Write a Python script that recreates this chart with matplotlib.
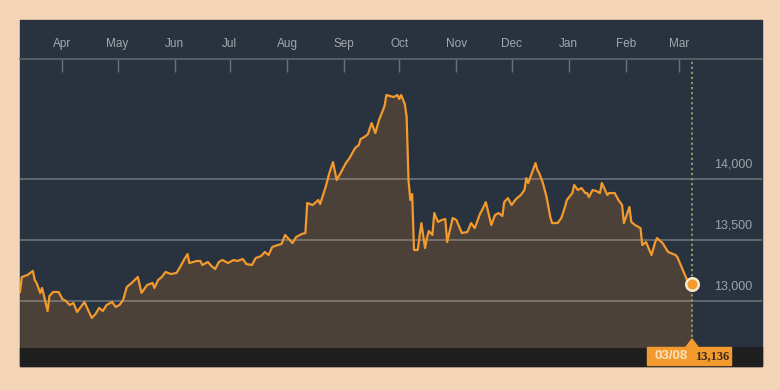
import numpy as np
import pandas as pd
import matplotlib
matplotlib.use("Agg")
import matplotlib.pyplot as plt
import matplotlib.dates as mdates
from matplotlib.patches import Rectangle, Polygon

START = pd.Timestamp("2015-03-09")

# trading days since START
days_since_start = [
    0, 1, 4, 7, 8, 9, 11, 12, 15, 16, 18, 21, 23, 25, 27, 29, 31, 33, 35, 37,
    39, 41, 43, 45, 47, 50, 52, 54, 56, 58, 60, 64, 66, 69, 72, 73, 75, 77, 79, 82,
    85, 87, 89, 91, 92, 96, 98, 99, 102, 104, 106, 108, 110, 113, 116, 118, 121, 123, 126, 128,
    131, 133, 135, 137, 140, 142, 144, 146, 148, 150, 153, 155, 156, 159, 162, 163, 166, 168, 170, 172,
    175, 177, 179, 182, 184, 185, 187, 189, 191, 193, 195, 198, 199, 201, 203, 205, 206, 207, 209, 210,
    211, 212, 213, 214, 216, 218, 220, 221, 222, 224, 225, 227, 229, 231, 232, 235, 237, 240, 243, 245,
    247, 250, 251, 253, 256, 258, 260, 262, 263, 265, 267, 269, 270, 272, 274, 275, 276, 278, 280, 281,
    282, 284, 286, 288, 289, 292, 294, 296, 297, 300, 301, 303, 305, 307, 308, 309, 311, 313, 315, 316,
    319, 320, 323, 325, 327, 328, 331, 332, 334, 337, 338, 340, 343, 345, 346, 349, 352, 356, 357, 360,
    363, 365,
]
index_values = [
    13074, 13197, 13213, 13246, 13172, 13148, 13066, 13107, 12918, 13041, 13074, 13074, 13016, 13000, 12967, 12984, 12910, 12951, 12992, 12926,
    12861, 12893, 12943, 12918, 12967, 12992, 12951, 12967, 13008, 13115, 13139, 13197, 13066, 13131, 13148, 13107, 13172, 13197, 13238, 13221,
    13230, 13279, 13336, 13385, 13311, 13328, 13328, 13295, 13320, 13287, 13262, 13320, 13336, 13311, 13336, 13328, 13344, 13303, 13295, 13352,
    13369, 13402, 13377, 13443, 13459, 13467, 13541, 13508, 13475, 13525, 13549, 13557, 13803, 13787, 13828, 13795, 13934, 14049, 14139, 13992,
    14074, 14131, 14172, 14254, 14279, 14328, 14344, 14369, 14459, 14377, 14484, 14598, 14689, 14680, 14672, 14689, 14656, 14689, 14615, 14508,
    13992, 13828, 13877, 13418, 13418, 13639, 13434, 13516, 13574, 13541, 13721, 13648, 13664, 13672, 13484, 13680, 13664, 13557, 13566, 13639,
    13598, 13721, 13746, 13811, 13623, 13705, 13721, 13697, 13811, 13844, 13787, 13828, 13844, 13869, 13910, 14008, 13967, 14049, 14131, 14074,
    14049, 13967, 13852, 13689, 13639, 13639, 13680, 13771, 13828, 13885, 13951, 13910, 13926, 13885, 13885, 13852, 13910, 13902, 13885, 13967,
    13869, 13885, 13885, 13828, 13787, 13639, 13771, 13648, 13623, 13598, 13459, 13484, 13377, 13484, 13516, 13475, 13402, 13377, 13361, 13254,
    13148, 13136,
]
grid_levels = [13000, 13500, 14000]
month_ticks = ["2015-04-01", "2015-05-01", "2015-06-01", "2015-07-01", "2015-08-01", "2015-09-01",
               "2015-10-01", "2015-11-01", "2015-12-01", "2016-01-01", "2016-02-01", "2016-03-01"]
last_label = "03/08"
last_value_label = "13,136"

dates = START + pd.to_timedelta(days_since_start, unit="D")
values = np.array(index_values, dtype=float)

PANEL = "#29333f"
FILL = "#4b4139"
ORANGE = "#f29a2e"
GREY_TXT = "#9ca2a8"

W, H = 780, 390
fig = plt.figure(figsize=(W / 100, H / 100), dpi=100, facecolor="#f4d4b6")
plt.rcParams["font.family"] = ["Liberation Sans", "DejaVu Sans"]

# dark panel and bottom strip (behind the axes)
fig.patches.append(Rectangle((20 / W, (H - 366) / H), 742 / W, 346 / H,
                             transform=fig.transFigure, color=PANEL, zorder=-2))
fig.patches.append(Rectangle((20 / W, (H - 366) / H), 742 / W, 19 / H,
                             transform=fig.transFigure, color="#1f1f20", zorder=-1))

ax = fig.add_axes([20 / W, (H - 347) / H, 742 / W, 288 / H])
ax.set_zorder(1)
ax.set_facecolor(PANEL)

ax.fill_between(dates, values, 12500, color=FILL, zorder=1, linewidth=0)
for lv in grid_levels:
    ax.axhline(lv, color="white", alpha=0.28, linewidth=1.3, zorder=2)
    ax.annotate(f"{lv:,}", xy=(0.987, lv), xycoords=("axes fraction", "data"),
                xytext=(0, 6), textcoords="offset points",
                ha="right", va="bottom", fontsize=9, color=GREY_TXT)
ax.plot(dates, values, color=ORANGE, linewidth=1.6, zorder=3)

last_date = dates[-1]
ax.axvline(last_date, color="#9a9f6c", linestyle=(0, (1.2, 1.6)), linewidth=1.3, zorder=2)
ax.plot([last_date], [values[-1]], "o", markersize=9, markerfacecolor=ORANGE,
        markeredgecolor="#f7e8d0", markeredgewidth=1.8, zorder=4)

ax.set_xlim(START, START + pd.Timedelta(days=403))
ax.set_ylim(12623, 14984)
ax.set_yticks([])

ax.xaxis.tick_top()
ax.set_xticks(pd.to_datetime(month_ticks))
ax.xaxis.set_major_formatter(mdates.DateFormatter("%b"))
ax.tick_params(axis="x", direction="in", length=9.5, width=1, color="#6a727a",
               labelsize=8.5, labelcolor="#a3a8ad", pad=6.5)
for side in ["left", "right", "bottom"]:
    ax.spines[side].set_visible(False)
ax.spines["top"].set_color("#5d656d")
ax.spines["top"].set_linewidth(1.2)

# value box at the bottom
bx0, bx1 = 647 / W, 731 / W
by0, by1 = (H - 365) / H, (H - 347) / H
fig.patches.append(Rectangle((bx0, by0), bx1 - bx0, by1 - by0,
                             transform=fig.transFigure, color=ORANGE, zorder=5))
tip_x = ax.transData.transform((mdates.date2num(last_date), 0))[0] / W
fig.patches.append(Polygon([(tip_x - 6 / W, by1), (tip_x + 6 / W, by1), (tip_x, (H - 339) / H)],
                           transform=fig.transFigure, color=ORANGE, zorder=5))
fig.text(671 / W, (by0 + by1) / 2, last_label, ha="center", va="center",
         fontsize=9.5, fontweight="bold", color="#fde2bd", zorder=6)
fig.text(712 / W, (by0 + by1) / 2, last_value_label, ha="center", va="center",
         fontsize=9, fontweight="bold", color="#3a2a1c", family="Liberation Serif", zorder=6)

fig.savefig("out.png", dpi=100, facecolor=fig.get_facecolor())
